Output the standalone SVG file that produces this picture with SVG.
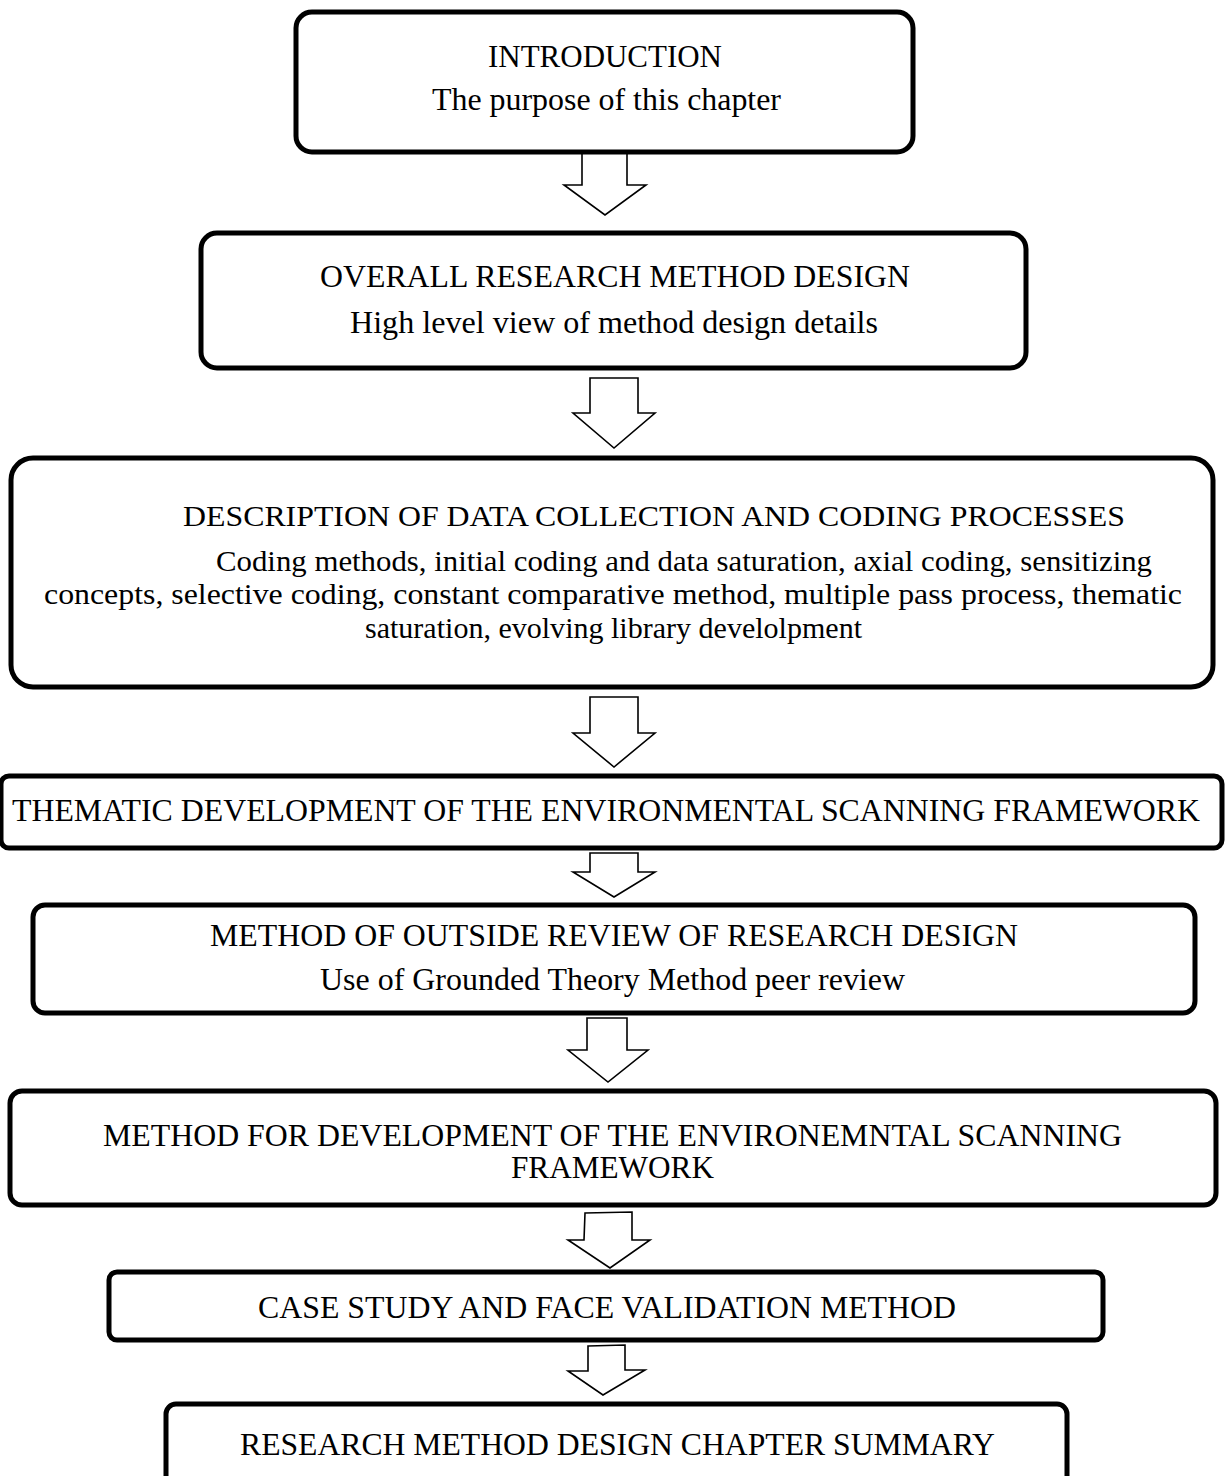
<svg xmlns="http://www.w3.org/2000/svg" width="1225" height="1476" viewBox="0 0 1225 1476">
  <style>
    .box { fill: #fff; stroke: #000; stroke-width: 5; }
    .arrow { fill: #fff; stroke: #000; stroke-width: 1.6; stroke-linejoin: miter; }
    text { font-family: "Liberation Serif", "Times New Roman", serif; font-size: 31px; fill: #000; }
    .small { font-size: 29.5px; }
  </style>
  <rect width="1225" height="1476" fill="#fff"/>

  <g id="connectors">
    <path class="arrow" d="M582,152 L627,152 L627,185 L646,185 L605,215 L564,185 L582,185 Z"/>
    <path class="arrow" d="M590,378 L638,378 L638,413 L655,413 L614,448 L573,413 L590,413 Z"/>
    <path class="arrow" d="M590,697 L638,697 L638,733 L655,733 L614,767 L573,733 L590,733 Z"/>
    <path class="arrow" d="M590,853 L638,853 L638,872 L655,872 L614,897 L573,872 L590,872 Z"/>
    <path class="arrow" d="M587,1018 L627,1018 L627,1050 L648,1050 L608,1082 L568,1050 L587,1050 Z"/>
    <path class="arrow" d="M585,1213 L632,1212 L632,1240 L650,1240 L610,1268 L568,1240 L584,1240 Z"/>
    <path class="arrow" d="M588,1346 L625,1345 L625,1370 L645,1370 L603,1395 L568,1371 L588,1371 Z"/>
  </g>

  <g id="introduction">
    <rect class="box" x="296" y="12" width="617" height="140" rx="16"/>
    <text x="488" y="67" textLength="234" lengthAdjust="spacingAndGlyphs">INTRODUCTION</text>
    <text x="432" y="110" textLength="349" lengthAdjust="spacingAndGlyphs">The purpose of this chapter</text>
  </g>

  <g id="overall-design">
    <rect class="box" x="201" y="233" width="825" height="135" rx="16"/>
    <text x="320" y="287" textLength="590" lengthAdjust="spacingAndGlyphs">OVERALL RESEARCH METHOD DESIGN</text>
    <text x="350" y="333" textLength="528" lengthAdjust="spacingAndGlyphs">High level view of method design details</text>
  </g>

  <g id="data-collection">
    <rect class="box" x="11" y="458" width="1202" height="229" rx="22"/>
    <text class="small" x="183" y="526" textLength="942" lengthAdjust="spacingAndGlyphs">DESCRIPTION OF DATA COLLECTION  AND CODING PROCESSES</text>
    <text class="small" x="216" y="571" textLength="936" lengthAdjust="spacingAndGlyphs">Coding methods, initial coding and data saturation, axial coding, sensitizing</text>
    <text class="small" x="44" y="604" textLength="1138" lengthAdjust="spacingAndGlyphs">concepts, selective coding, constant comparative method, multiple pass process, thematic</text>
    <text class="small" x="365" y="638" textLength="497" lengthAdjust="spacingAndGlyphs">saturation, evolving library develolpment</text>
  </g>

  <g id="thematic-development">
    <rect class="box" x="1" y="776" width="1221" height="72" rx="8"/>
    <text x="12" y="821" textLength="1188" lengthAdjust="spacingAndGlyphs">THEMATIC DEVELOPMENT  OF THE ENVIRONMENTAL  SCANNING FRAMEWORK</text>
  </g>

  <g id="outside-review">
    <rect class="box" x="33" y="905" width="1162" height="108" rx="12"/>
    <text x="210" y="946" textLength="808" lengthAdjust="spacingAndGlyphs">METHOD OF OUTSIDE  REVIEW OF RESEARCH DESIGN</text>
    <text x="320" y="990" textLength="585" lengthAdjust="spacingAndGlyphs">Use of Grounded Theory Method peer review</text>
  </g>

  <g id="framework-method">
    <rect class="box" x="10" y="1091" width="1206" height="114" rx="12"/>
    <text x="103" y="1146" textLength="1019" lengthAdjust="spacingAndGlyphs">METHOD FOR DEVELOPMENT  OF THE ENVIRONEMNTAL  SCANNING</text>
    <text x="511" y="1178" textLength="203" lengthAdjust="spacingAndGlyphs">FRAMEWORK</text>
  </g>

  <g id="case-study">
    <rect class="box" x="109" y="1272" width="994" height="68" rx="8"/>
    <text x="258" y="1318" textLength="698" lengthAdjust="spacingAndGlyphs">CASE STUDY AND FACE VALIDATION  METHOD</text>
  </g>

  <g id="chapter-summary">
    <rect class="box" x="166" y="1404" width="901" height="110" rx="10"/>
    <text x="240" y="1455" textLength="755" lengthAdjust="spacingAndGlyphs">RESEARCH METHOD DESIGN CHAPTER SUMMARY</text>
  </g>
</svg>
